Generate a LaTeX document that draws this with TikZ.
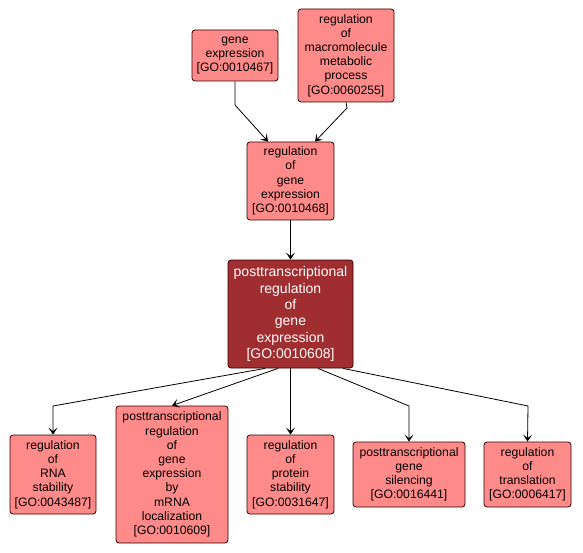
\documentclass[tikz,border=0pt]{standalone}
\usepackage{fontspec}
\setmainfont{Liberation Sans}
\usetikzlibrary{arrows.meta}
\definecolor{lightred}{RGB}{255,138,138}
\definecolor{darkred}{RGB}{160,45,48}
\begin{document}
\begin{tikzpicture}[x=1pt,y=-1pt,
  term/.style={draw=black!80!red, line width=0.8pt, rounded corners=3pt, fill=lightred,
    align=center, inner sep=0pt, font=\fontsize{12.2}{14.2}\selectfont, text=black},
  focus/.style={term, fill=darkred, text=white, font=\fontsize{14}{16.4}\selectfont},
  edge/.style={draw=black, line width=0.8pt, -{Stealth[length=7pt,width=9pt,inset=3.5pt]}}]
\useasboundingbox (0,0) rectangle (583,553);
\node[term, minimum width=86pt, minimum height=51pt] (ge) at (235,55.5) {gene\\expression\\{}[GO:0010467]};
\node[term, minimum width=96pt, minimum height=93pt] (rmm) at (346,55.5) {regulation\\of\\macromolecule\\metabolic\\process\\{}[GO:0060255]};
\node[term, minimum width=87pt, minimum height=78pt] (rge) at (290.5,181) {regulation\\of\\gene\\expression\\{}[GO:0010468]};
\node[focus, minimum width=125pt, minimum height=108pt] (ptr) at (290.5,314) {posttranscriptional\\regulation\\of\\gene\\expression\\{}[GO:0010608]};
\node[term, minimum width=86pt, minimum height=79pt] (rna) at (53,474.5) {regulation\\of\\RNA\\stability\\{}[GO:0043487]};
\node[term, minimum width=112pt, minimum height=137pt] (mrna) at (172,474.5) {posttranscriptional\\regulation\\of\\gene\\expression\\by\\mRNA\\localization\\{}[GO:0010609]};
\node[term, minimum width=87pt, minimum height=79pt] (prot) at (290.5,474.5) {regulation\\of\\protein\\stability\\{}[GO:0031647]};
\node[term, minimum width=112pt, minimum height=65pt] (sil) at (409,474.5) {posttranscriptional\\gene\\silencing\\{}[GO:0016441]};
\node[term, minimum width=87pt, minimum height=65pt] (tra) at (527.5,474.5) {regulation\\of\\translation\\{}[GO:0006417]};
\coordinate (b1) at (235,105);
\coordinate (b2) at (347,108);
\coordinate (b3) at (53,406);
\coordinate (b4) at (409,406);
\coordinate (b5) at (528,406);
\draw[edge] (ge.south) -- (b1) -- (rge.north west -| 268,0) ;
\draw[edge] (rmm.south) -- (b2) -- (rge.north east -| 315,0);
\draw[edge] (rge.south) -- (ptr.north);
\draw[edge] (ptr.south -| 265,0) -- (b3) -- (rna.north);
\draw[edge] (ptr.south -| 278,0) -- (mrna.north);
\draw[edge] (ptr.south) -- (prot.north);
\draw[edge] (ptr.south -| 318,0) -- (b4) -- (sil.north);
\draw[edge] (ptr.south -| 343,0) -- (b5) -- (tra.north);
\end{tikzpicture}
\end{document}
